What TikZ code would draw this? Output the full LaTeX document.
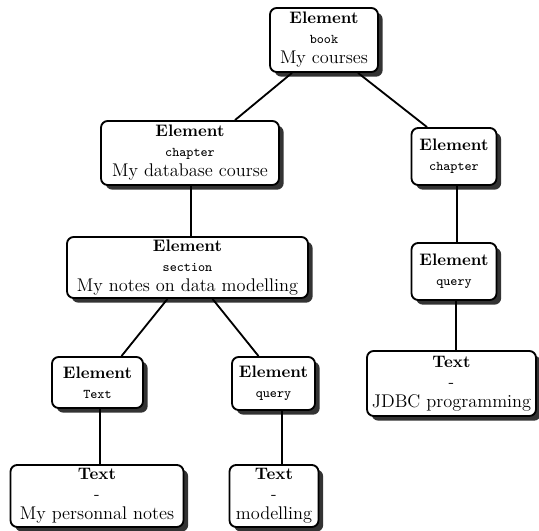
\documentclass[tikz,border=0pt]{standalone}
\usepackage{tikz}
\usetikzlibrary{calc,shadows}
\tikzstyle{elem} = [rectangle, draw, fill=white, line width=1.1pt, rounded corners=4pt, align=center, inner sep=1pt, drop shadow={shadow xshift=2.8pt, shadow yshift=-2.8pt, fill=black!80, opacity=1}]
\tikzstyle{link} = [line width=1.1pt]
\newcommand{\tagname}[1]{{\footnotesize\ttfamily #1}}
\newcommand{\content}[1]{{\fontsize{11}{13}\selectfont #1}}

\begin{document}
\begin{tikzpicture}[x=0.6pt, y=-0.6pt]
    \useasboundingbox (0,0) rectangle (539,531);

    \node[elem, minimum width=64.8pt, minimum height=38.4pt] (book) at (324,40) {\textbf{Element}\\\tagname{book}\\\content{My courses}};
    \node[elem, minimum width=106.8pt, minimum height=38.4pt] (chapdb) at (190,153) {\textbf{Element}\\\tagname{chapter}\\\content{My database course}};
    \node[elem, minimum width=51pt, minimum height=34.2pt] (chapjdbc) at (454,156.5) {\textbf{Element}\\\tagname{chapter}};
    \node[elem, minimum width=144.6pt, minimum height=36.6pt] (section) at (187.5,267.5) {\textbf{Element}\\\tagname{section}\\\content{My notes on data modelling}};
    \node[elem, minimum width=51pt, minimum height=34.2pt] (queryjdbc) at (454,271.5) {\textbf{Element}\\\tagname{query}};
    \node[elem, minimum width=54.6pt, minimum height=30.6pt] (textel) at (97.5,382.5) {\textbf{Element}\\\tagname{Text}};
    \node[elem, minimum width=49.8pt, minimum height=31.8pt] (querymod) at (273.5,383.5) {\textbf{Element}\\\tagname{query}};
    \node[elem, minimum width=101.4pt, minimum height=39pt] (jdbc) at (451.5,383.5) {\textbf{Text}\\-\\\content{JDBC programming}};
    \node[elem, minimum width=103.8pt, minimum height=37.2pt] (notes) at (97,496) {\textbf{Text}\\-\\\content{My personnal notes}};
    \node[elem, minimum width=53.4pt, minimum height=37.2pt] (modelling) at (274,496) {\textbf{Text}\\-\\\content{modelling}};

    \draw[link] ($(book.south)+(-32,0)$) -- ($(chapdb.north)+(45,0)$);
    \draw[link] ($(book.south)+(34,0)$) -- ($(chapjdbc.north)+(-27,0)$);
    \draw[link] ($(chapdb.south)+(1,0)$) -- ($(section.north)+(3.5,0)$);
    \draw[link] ($(section.south)+(-20,0)$) -- ($(textel.north)+(24,0)$);
    \draw[link] ($(section.south)+(25,0)$) -- ($(querymod.north)+(-15,0)$);
    \draw[link] ($(textel.south)+(2.5,0)$) -- ($(notes.north)+(3,0)$);
    \draw[link] ($(querymod.south)+(8.5,0)$) -- ($(modelling.north)+(8,0)$);
    \draw[link] ($(chapjdbc.south)+(3,0)$) -- ($(queryjdbc.north)+(3,0)$);
    \draw[link] ($(queryjdbc.south)+(2,0)$) -- ($(jdbc.north)+(4.5,0)$);
\end{tikzpicture}
\end{document}
